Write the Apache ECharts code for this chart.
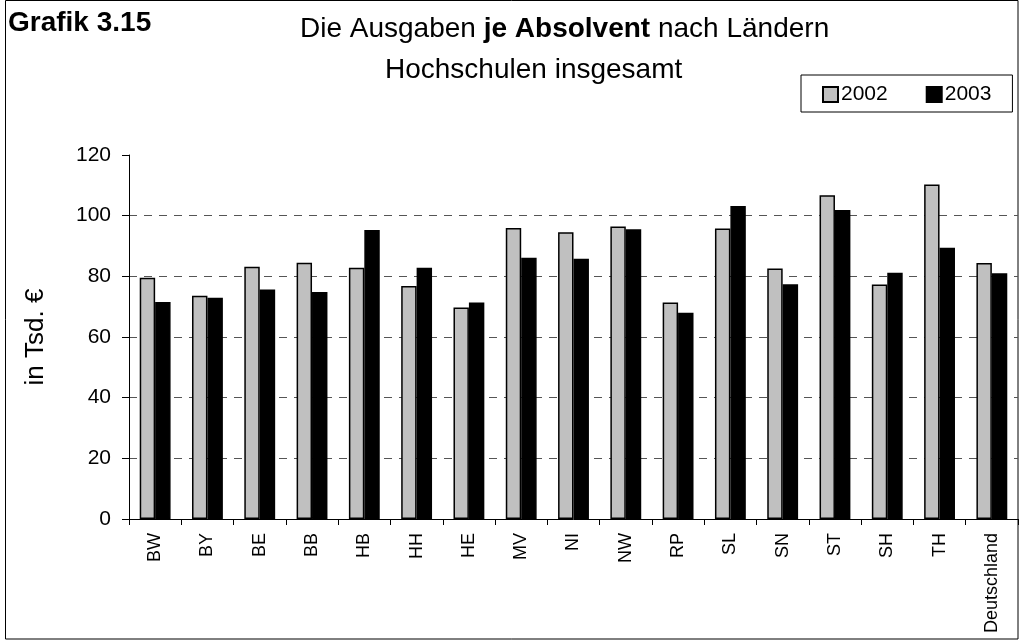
<!DOCTYPE html>
<html>
<head>
<meta charset="utf-8">
<script src="https://cdn.jsdelivr.net/npm/echarts@6/dist/echarts.min.js"></script>
<style>
html,body{margin:0;padding:0;background:#fff;}
#chart{width:1022px;height:641px;}
</style>
</head>
<body>
<div id="chart"></div>
<script>
const categories = ['BW','BY','BE','BB','HB','HH','HE','MV','NI','NW','RP','SL','SN','ST','SH','TH','Deutschland'];
const values2002 = [79.5,73.6,83.2,84.5,82.8,76.8,69.7,95.9,94.5,96.4,71.4,95.8,82.6,106.7,77.3,110.3,84.4];
const values2003 = [71.5,72.9,75.7,74.8,95.3,82.8,71.4,86.1,85.8,95.5,68.0,103.2,77.4,101.9,81.2,89.4,81.0];
const seriesNames = ['2002','2003'];
const yTicks = {min: 0, max: 120, interval: 20};

const FONT = '"Liberation Sans", Arial, sans-serif';
const chart = echarts.init(document.getElementById('chart'), null, {renderer: 'canvas'});
chart.setOption({
  animation: false,
  backgroundColor: '#ffffff',
  textStyle: {fontFamily: FONT, color: '#000'},
  graphic: [{
    type: 'rect',
    shape: {x: 5.5, y: 0.5, width: 1012.5, height: 638.5},
    style: {fill: 'none', stroke: '#000', lineWidth: 1},
    silent: true
  }],
  title: [
    {text: 'Grafik 3.15', left: 8, top: 9, padding: 0,
     textStyle: {fontFamily: FONT, fontSize: 28, fontWeight: 'bold', color: '#000'}},
    {text: '{n|Die Ausgaben }{b|je Absolvent}{n| nach Ländern}', left: 300, top: 15, padding: 0,
     textStyle: {fontWeight: 'normal', rich: {
       n: {fontFamily: FONT, fontSize: 28, fontWeight: 'normal', color: '#000'},
       b: {fontFamily: FONT, fontSize: 28, fontWeight: 'bold', color: '#000'}
     }}},
    {text: 'Hochschulen insgesamt', left: 385, top: 56, padding: 0,
     textStyle: {fontFamily: FONT, fontSize: 28, fontWeight: 'normal', color: '#000'}}
  ],
  legend: {
    data: seriesNames,
    left: 801, top: 75,
    orient: 'horizontal',
    borderColor: '#000', borderWidth: 1,
    padding: [9, 21, 7, 21],
    itemWidth: 15, itemHeight: 15, itemGap: 38,
    icon: 'rect',
    textStyle: {fontFamily: FONT, fontSize: 21, color: '#000', padding: [0, 0, 0, -2]}
  },
  grid: {left: 129, right: 4, top: 155, bottom: 122, containLabel: false},
  xAxis: {
    type: 'category',
    data: categories,
    axisLine: {show: true, lineStyle: {color: '#000', width: 1}},
    axisTick: {show: true, length: 6, lineStyle: {color: '#000'}},
    axisLabel: {interval: 0, rotate: 90, fontSize: 18, margin: 14, color: '#000', fontFamily: FONT},
    splitLine: {show: false}
  },
  yAxis: {
    type: 'value',
    min: yTicks.min, max: yTicks.max, interval: yTicks.interval,
    name: 'in Tsd. €',
    nameLocation: 'middle',
    nameRotate: 90,
    nameGap: 80,
    nameTextStyle: {fontFamily: FONT, fontSize: 26, color: '#000'},
    axisLine: {show: true, lineStyle: {color: '#000', width: 1}},
    axisTick: {show: true, length: 7, lineStyle: {color: '#000'}},
    axisLabel: {fontSize: 21, margin: 18, color: '#000', fontFamily: FONT},
    splitLine: {show: true, showMinLine: false, showMaxLine: false,
      lineStyle: {color: '#555', width: 1, type: [8, 7]}}
  },
  series: [
    {name: seriesNames[0], type: 'bar', data: values2002, barGap: '0%', barCategoryGap: '41%',
     itemStyle: {color: '#c0c0c0', borderColor: '#000', borderWidth: 1.5}},
    {name: seriesNames[1], type: 'bar', data: values2003, barGap: '0%', barCategoryGap: '41%',
     itemStyle: {color: '#000', borderColor: '#000', borderWidth: 1.5}}
  ]
});
</script>
</body>
</html>
